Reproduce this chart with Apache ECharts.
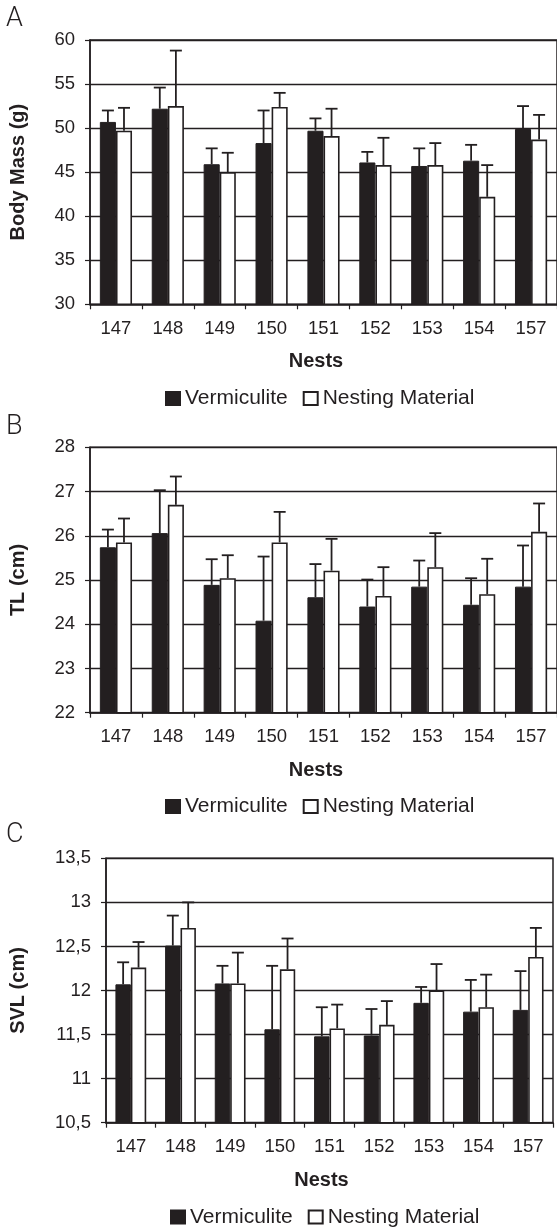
<!DOCTYPE html>
<html>
<head>
<meta charset="utf-8">
<script src="https://cdn.jsdelivr.net/npm/echarts@6/dist/echarts.min.js"></script>
<style>
html,body{margin:0;padding:0;background:#fff;}
#chart{width:557px;height:1227px;}
</style>
</head>
<body>
<div id="chart"></div>
<script>
// ---- Data ----
const nests = ['147','148','149','150','151','152','153','154','157'];
const seriesNames = ['Vermiculite', 'Nesting Material'];

// Panel A: Body Mass (g)
const massVerm    = [50.7, 52.2, 45.9, 48.3, 49.7, 46.1, 45.7, 46.3, 49.9];
const massVermErr = [1.3, 2.4, 1.8, 3.7, 1.4, 1.2, 2.0, 1.8, 2.6];
const massNest    = [49.7, 52.5, 45.0, 52.4, 49.1, 45.8, 45.8, 42.2, 48.7];
const massNestErr = [2.6, 6.3, 2.2, 1.6, 3.1, 3.1, 2.5, 3.6, 2.8];

// Panel B: TL (cm)
const tlVerm    = [25.74, 26.06, 24.89, 24.08, 24.61, 24.40, 24.85, 24.44, 24.85];
const tlVermErr = [0.40, 0.97, 0.58, 1.45, 0.75, 0.61, 0.59, 0.60, 0.93];
const tlNest    = [25.85, 26.70, 25.04, 25.85, 25.21, 24.64, 25.29, 24.68, 26.09];
const tlNestErr = [0.54, 0.64, 0.52, 0.69, 0.72, 0.65, 0.77, 0.80, 0.64];

// Panel C: SVL (cm)
const svlVerm    = [12.07, 12.51, 12.08, 11.56, 11.48, 11.49, 11.86, 11.76, 11.78];
const svlVermErr = [0.25, 0.34, 0.20, 0.72, 0.33, 0.30, 0.18, 0.36, 0.44];
const svlNest    = [12.26, 12.71, 12.08, 12.24, 11.57, 11.61, 12.00, 11.81, 12.38];
const svlNestErr = [0.29, 0.29, 0.35, 0.35, 0.27, 0.27, 0.30, 0.37, 0.33];

// Axis ranges
const yRanges = [
  {min: 30, max: 60, interval: 5, name: 'Body Mass (g)'},
  {min: 22, max: 28, interval: 1, name: 'TL (cm)'},
  {min: 10.5, max: 13.5, interval: 0.5, name: 'SVL (cm)'}
];
const panelLetters = ['A', 'B', 'C'];

// ---- Layout / styles ----
const INK = '#231f20';
const FONT = '"Liberation Sans", Arial, Helvetica, sans-serif';
const GAP = 0.38;
const grids = [
  {left: 86.5, top: 40, width: 471, height: 264.3, nameGap: 62, letterY: 6, nestsY: 361.5, legendTop: 388, legendLeft: 165, nestsX: 316},
  {left: 86.5, top: 447.3, width: 471, height: 265.4, nameGap: 62, letterY: 414, nestsY: 770.5, legendTop: 796, legendLeft: 165, nestsX: 316},
  {left: 102, top: 858.3, width: 451, height: 264.4, nameGap: 78, letterY: 822, nestsY: 1180.5, legendTop: 1206.5, legendLeft: 170, nestsX: 321.5}
];

const panelData = [
  [massVerm, massVermErr, massNest, massNestErr],
  [tlVerm, tlVermErr, tlNest, tlNestErr],
  [svlVerm, svlVermErr, svlNest, svlNestErr]
];

function errRender(params, api) {
  const xi = api.value(0), m = api.value(1), e = api.value(2), side = api.value(3);
  const p0 = api.coord([xi, m]);
  const p1 = api.coord([xi, m + e]);
  const band = api.size([1, 0])[0];
  const w = band * (1 - GAP) / 2;
  const cx = p0[0] + side * w / 2;
  const cap = 12;
  const style = {stroke: INK, lineWidth: 1.8};
  return {
    type: 'group',
    children: [
      {type: 'line', shape: {x1: cx, y1: p0[1], x2: cx, y2: p1[1]}, style: style},
      {type: 'line', shape: {x1: cx - cap / 2, y1: p1[1], x2: cx + cap / 2, y2: p1[1]}, style: style}
    ]
  };
}

const option = {
  backgroundColor: '#fff',
  animation: false,
  grid: [], xAxis: [], yAxis: [], series: [], legend: [], graphic: []
};

grids.forEach((g, i) => {
  option.grid.push({left: g.left, top: g.top, width: g.width, height: g.height,
    show: true, borderColor: INK, borderWidth: 1.5, backgroundColor: 'transparent'});
  option.xAxis.push({
    type: 'category', gridIndex: i, data: nests, boundaryGap: true,
    axisLine: {show: true, lineStyle: {color: INK, width: 1.5}},
    axisTick: {show: true, length: 5, lineStyle: {color: INK, width: 1.2}},
    axisLabel: {fontSize: 18.5, color: INK, fontFamily: FONT, margin: 15}
  });
  const yr = yRanges[i];
  option.yAxis.push({
    type: 'value', gridIndex: i, min: yr.min, max: yr.max, interval: yr.interval,
    name: yr.name, nameLocation: 'middle', nameGap: g.nameGap, nameRotate: 90,
    nameTextStyle: {fontSize: 20, fontWeight: 'bold', color: INK, fontFamily: FONT},
    axisLine: {show: true, lineStyle: {color: INK, width: 1.5}},
    axisTick: {show: true, length: 5, lineStyle: {color: INK, width: 1.2}},
    splitLine: {show: true, lineStyle: {color: INK, width: 1.3}},
    axisLabel: {fontSize: 18.5, color: INK, fontFamily: FONT, margin: 15,
      formatter: v => String(+v.toFixed(2)).replace('.', ',')}
  });
  const [vm, ve, nm, ne] = panelData[i];
  option.series.push({
    name: seriesNames[0], type: 'bar', xAxisIndex: i, yAxisIndex: i, data: vm,
    barGap: '0%', barCategoryGap: (GAP * 100) + '%',
    itemStyle: {color: INK, borderColor: INK, borderWidth: 1}
  });
  option.series.push({
    name: seriesNames[1], type: 'bar', xAxisIndex: i, yAxisIndex: i, data: nm,
    barGap: '0%', barCategoryGap: (GAP * 100) + '%',
    itemStyle: {color: '#ffffff', borderColor: INK, borderWidth: 1.6}
  });
  option.series.push({
    type: 'custom', xAxisIndex: i, yAxisIndex: i, z: 5, silent: true,
    renderItem: errRender,
    data: nests.map((c, k) => [k, vm[k], ve[k], -1])
  });
  option.series.push({
    type: 'custom', xAxisIndex: i, yAxisIndex: i, z: 5, silent: true,
    renderItem: errRender,
    data: nests.map((c, k) => [k, nm[k], ne[k], 1])
  });
  option.legend.push({
    data: seriesNames, left: g.legendLeft, top: g.legendTop, orient: 'horizontal',
    padding: 0,
    icon: 'rect', itemWidth: 14, itemHeight: 13, itemGap: 15,
    textStyle: {fontSize: 21, color: INK, fontFamily: FONT},
    selectedMode: false
  });
  option.graphic.push({
    type: 'text', left: 6, top: g.letterY,
    style: {text: panelLetters[i], fontSize: 27, fontWeight: 300, fontFamily: 'Roboto, "Liberation Sans", sans-serif', fill: INK}
  });
  option.graphic.push({
    type: 'text', x: g.nestsX, y: g.nestsY,
    style: {text: 'Nests', fontSize: 20, fontWeight: 'bold', fontFamily: FONT, fill: INK,
      textAlign: 'center', textVerticalAlign: 'middle'}
  });
});

const chart = echarts.init(document.getElementById('chart'), null, {renderer: 'canvas'});
chart.setOption(option);
</script>
</body>
</html>
